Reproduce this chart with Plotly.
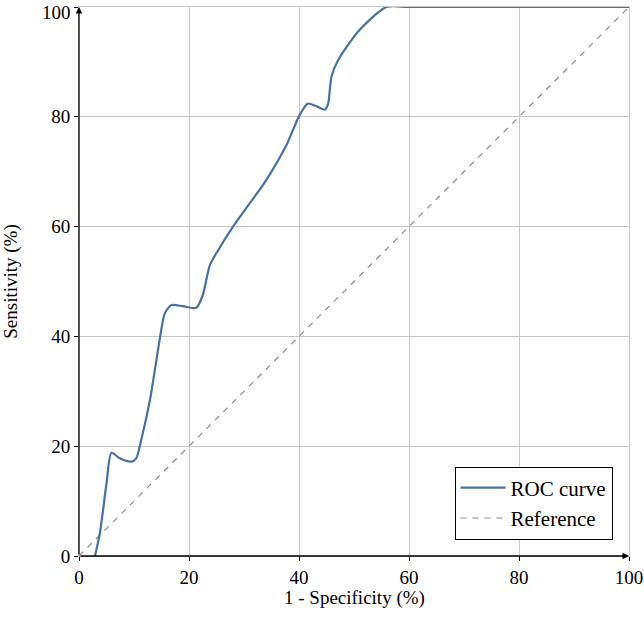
import plotly.graph_objects as go

# ROC curve points (1 - specificity %, sensitivity %)
roc_fpr = [2.9, 3.8, 5.0, 5.9, 7.4, 9.5, 10.4, 11.3, 12.9, 14.7, 15.6, 16.8, 18.9, 21.3,
           22.5, 23.8, 25.3, 28.0, 31.0, 33.8, 37.7, 40.1, 41.6, 43.0, 44.7, 45.3, 45.9,
           47.1, 51.0, 55.9, 60.0, 80.0, 100.0]
roc_tpr = [0.0, 4.2, 13.2, 18.8, 17.8, 17.2, 17.8, 21.1, 28.4, 39.6, 44.2, 45.7, 45.5, 45.2,
           47.5, 53.0, 55.7, 60.0, 64.2, 68.1, 74.8, 80.3, 82.4, 82.0, 81.3, 82.4, 87.3,
           90.3, 95.8, 100.0, 100.0, 100.0, 100.0]
ref_x = [0, 100]
ref_y = [0, 100]
tick_vals = [0, 20, 40, 60, 80, 100]
tick_text = ["0", "20", "40", "60", "80", "100"]
x_title = "1 - Specificity (%)"
y_title = "Sensitivity (%)"

FONT = "Liberation Serif"

fig = go.Figure()
fig.add_trace(go.Scatter(x=ref_x, y=ref_y, mode="lines", name="Reference",
                         line=dict(color="#8c8c8c", width=1.2, dash="6px,6px"),
                         cliponaxis=False))
fig.add_trace(go.Scatter(x=roc_fpr, y=roc_tpr, mode="lines", name="ROC curve",
                         line=dict(color="#4472a8", width=2.2, shape="spline", smoothing=0.7),
                         cliponaxis=False))

axis_common = dict(range=[0, 100], tickvals=tick_vals, showgrid=True, gridcolor="#c8c8c8",
                   gridwidth=1, zeroline=False, showline=True, linecolor="#c8c8c8",
                   linewidth=1, mirror=True, ticks="outside", ticklen=4, tickcolor="black",
                   automargin=False, ticklabeloverflow="allow",
                   tickfont=dict(family=FONT, size=19, color="black"))

# the top y label is drawn as an annotation so it stays inside the page
y_ticktext = tick_text[:-1] + [""]

fig.update_layout(
    width=644, height=619,
    margin=dict(l=79, r=15, t=7, b=63),
    paper_bgcolor="white", plot_bgcolor="white",
    font=dict(family=FONT, size=19, color="black"),
    xaxis=dict(**axis_common, ticktext=tick_text),
    yaxis=dict(**axis_common, ticktext=y_ticktext,
               title=dict(text=y_title, standoff=30, font=dict(family=FONT, size=19))),
    legend=dict(x=0.97, y=0.03, xanchor="right", yanchor="bottom",
                bordercolor="black", borderwidth=1, bgcolor="white",
                traceorder="reversed", itemwidth=45, font=dict(family=FONT, size=21)),
    showlegend=True,
)

fig.add_annotation(x=0, y=1, xref="paper", yref="paper", text=tick_text[-1],
                   showarrow=False, xanchor="right", yanchor="top",
                   xshift=-6, yshift=7, font=dict(family=FONT, size=19, color="black"))
fig.add_annotation(x=0.5, y=0, xref="paper", yref="paper", text=x_title,
                   showarrow=False, xanchor="center", yanchor="middle",
                   yshift=-42, font=dict(family=FONT, size=19, color="black"))

# black axis lines with arrowheads
fig.add_annotation(x=100, y=0, ax=0, ay=0, xref="x", yref="y", axref="x", ayref="y",
                   showarrow=True, arrowhead=2, arrowsize=1, arrowwidth=1.3,
                   arrowcolor="black", standoff=0, text="")
fig.add_annotation(x=0, y=100, ax=0, ay=0, xref="x", yref="y", axref="x", ayref="y",
                   showarrow=True, arrowhead=2, arrowsize=1, arrowwidth=1.3,
                   arrowcolor="black", standoff=0, text="")

fig.write_html("out.html")
